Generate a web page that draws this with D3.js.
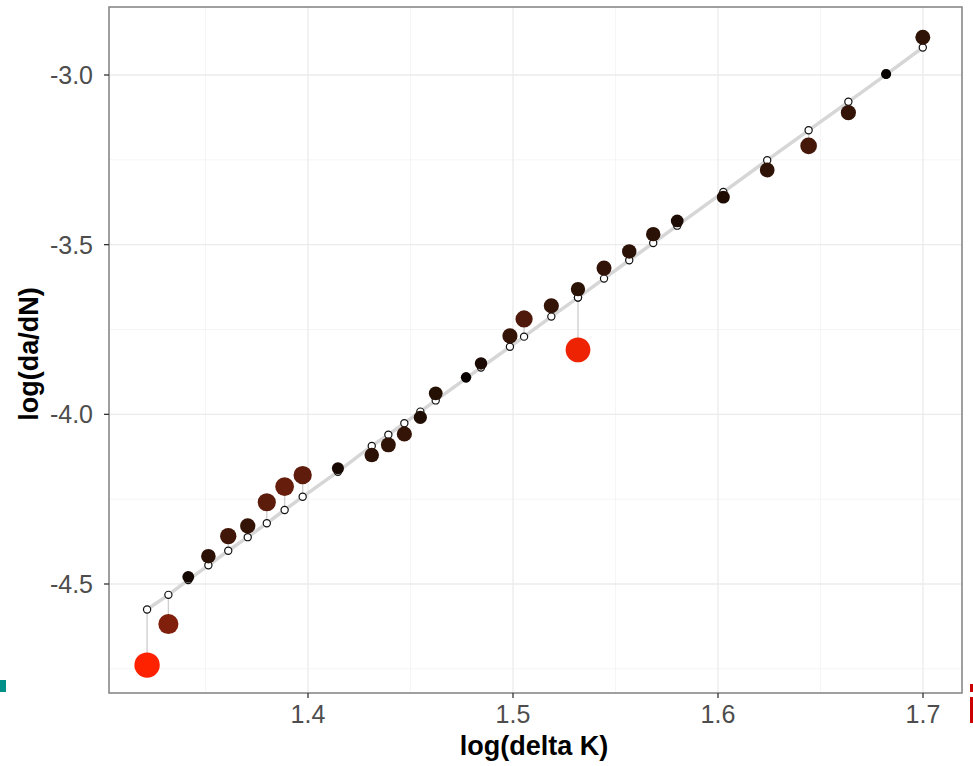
<!DOCTYPE html>
<html>
<head>
  <meta charset="utf-8">
  <style>
    body { margin: 0; background: #ffffff; }
    svg { display: block; font-family: 'Liberation Sans', Arial, sans-serif; }
    .grid-major { stroke: #ebebeb; stroke-width: 1.3; }
    .grid-minor { stroke: #f3f3f3; stroke-width: 0.8; }
    .tick-label { fill: #4d4d4d; font-size: 25px; }
    .axis-title { fill: #000000; font-size: 27px; font-weight: bold; }
  </style>
  <script src="https://d3js.org/d3.v7.min.js"></script>
</head>
<body>
  <div id="chart"></div>
  <script>
    // log(delta K) for each observation
    const logDeltaK = [1.3215, 1.3319, 1.3416, 1.3514, 1.3611, 1.3706, 1.3799, 1.3886, 1.3974,
      1.4146, 1.4311, 1.4392, 1.4470, 1.4548, 1.4623, 1.4771, 1.4844, 1.4985, 1.5054,
      1.5187, 1.5317, 1.5317, 1.5444, 1.5567, 1.5684, 1.5801, 1.6026, 1.6240, 1.6442,
      1.6636, 1.6820, 1.6999];
    // observed log(da/dN)
    const logDadN = [-4.739, -4.618, -4.479, -4.418, -4.359, -4.329, -4.259, -4.213, -4.179,
      -4.159, -4.120, -4.090, -4.058, -4.009, -3.938, -3.891, -3.850, -3.769, -3.719,
      -3.680, -3.631, -3.810, -3.569, -3.520, -3.469, -3.430, -3.360, -3.280, -3.209,
      -3.111, -2.997, -2.889];
    // fitted log(da/dN) from the regression line
    const fitted = [-4.575, -4.532, -4.488, -4.445, -4.402, -4.362, -4.321, -4.282, -4.243,
      -4.169, -4.093, -4.060, -4.026, -3.992, -3.959, -3.894, -3.862, -3.801, -3.771,
      -3.712, -3.656, -3.656, -3.600, -3.546, -3.495, -3.444, -3.345, -3.251, -3.163,
      -3.079, -2.999, -2.919];

    const xTicks = [1.4, 1.5, 1.6, 1.7];
    const xMinor = [1.35, 1.45, 1.55, 1.65];
    const yTicks = [-3.0, -3.5, -4.0, -4.5];
    const yMinor = [-3.25, -3.75, -4.25, -4.75];

    const data = logDeltaK.map((x, i) => ({
      x: x, y: logDadN[i], fit: fitted[i], res: Math.abs(logDadN[i] - fitted[i])
    }));

    const W = 973, H = 766;
    const panel = { left: 109, top: 7, right: 962, bottom: 693 };

    const x = d3.scaleLinear()
      .domain([1.4, 1.7]).range([308, 923]);
    const y = d3.scaleLinear()
      .domain([-3.0, -4.5]).range([75, 584]);

    const maxRes = d3.max(data, d => d.res);
    const size = d3.scalePow().exponent(0.6).domain([0, maxRes]).range([4.5, 12.7]);
    const color = d3.scaleLinear().domain([0, maxRes])
      .range(["#000000", "#ff2200"]).interpolate(d3.interpolateLab);

    const svg = d3.select("#chart").append("svg")
      .attr("width", W).attr("height", H);

    // grid
    const grid = svg.append("g");
    grid.selectAll(".gx-minor").data(xMinor).enter().append("line")
      .attr("class", "grid-minor")
      .attr("x1", d => x(d)).attr("x2", d => x(d))
      .attr("y1", panel.top).attr("y2", panel.bottom);
    grid.selectAll(".gy-minor").data(yMinor).enter().append("line")
      .attr("class", "grid-minor")
      .attr("x1", panel.left).attr("x2", panel.right)
      .attr("y1", d => y(d)).attr("y2", d => y(d));
    grid.selectAll(".gx").data(xTicks).enter().append("line")
      .attr("class", "grid-major")
      .attr("x1", d => x(d)).attr("x2", d => x(d))
      .attr("y1", panel.top).attr("y2", panel.bottom);
    grid.selectAll(".gy").data(yTicks).enter().append("line")
      .attr("class", "grid-major")
      .attr("x1", panel.left).attr("x2", panel.right)
      .attr("y1", d => y(d)).attr("y2", d => y(d));

    // regression line
    const line = d3.line().x(d => x(d.x)).y(d => y(d.fit));
    svg.append("path")
      .datum(data)
      .attr("d", line)
      .attr("fill", "none")
      .attr("stroke", "#d6d6d6")
      .attr("stroke-width", 3.5);

    // residual segments
    svg.selectAll(".res").data(data).enter().append("line")
      .attr("x1", d => x(d.x)).attr("x2", d => x(d.x))
      .attr("y1", d => y(d.fit)).attr("y2", d => y(d.y))
      .attr("stroke", "#d0d0d0")
      .attr("stroke-width", 1.4);

    // fitted points
    svg.selectAll(".fit").data(data).enter().append("circle")
      .attr("cx", d => x(d.x)).attr("cy", d => y(d.fit))
      .attr("r", 3.6)
      .attr("fill", "#ffffff")
      .attr("stroke", "#111111")
      .attr("stroke-width", 1.2);

    // observed points
    svg.selectAll(".obs").data(data).enter().append("circle")
      .attr("cx", d => x(d.x)).attr("cy", d => y(d.y))
      .attr("r", d => size(d.res))
      .attr("fill", d => color(d.res));

    // panel border
    svg.append("rect")
      .attr("x", panel.left).attr("y", panel.top)
      .attr("width", panel.right - panel.left)
      .attr("height", panel.bottom - panel.top)
      .attr("fill", "none")
      .attr("stroke", "#808080")
      .attr("stroke-width", 1.5);

    // ticks
    svg.selectAll(".xt").data(xTicks).enter().append("line")
      .attr("x1", d => x(d)).attr("x2", d => x(d))
      .attr("y1", panel.bottom).attr("y2", panel.bottom + 5)
      .attr("stroke", "#333333").attr("stroke-width", 1.3);
    svg.selectAll(".yt").data(yTicks).enter().append("line")
      .attr("x1", panel.left - 5).attr("x2", panel.left)
      .attr("y1", d => y(d)).attr("y2", d => y(d))
      .attr("stroke", "#333333").attr("stroke-width", 1.3);

    svg.selectAll(".xl").data(xTicks).enter().append("text")
      .attr("class", "tick-label")
      .attr("x", d => x(d)).attr("y", 723)
      .attr("text-anchor", "middle")
      .text(d => d3.format(".1f")(d));
    svg.selectAll(".yl").data(yTicks).enter().append("text")
      .attr("class", "tick-label")
      .attr("x", 93).attr("y", d => y(d) + 9)
      .attr("text-anchor", "end")
      .text(d => d3.format(".1f")(d).replace("−", "-"));

    svg.append("text")
      .attr("class", "axis-title")
      .attr("x", 534).attr("y", 755)
      .attr("text-anchor", "middle")
      .text("log(delta K)");
    svg.append("text")
      .attr("class", "axis-title")
      .attr("transform", `translate(38, ${(panel.top + panel.bottom) / 2 + 4}) rotate(-90)`)
      .attr("text-anchor", "middle")
      .text("log(da/dN)");

    // bits of neighbouring images cut into the screenshot
    svg.append("rect").attr("x", 0).attr("y", 680).attr("width", 6).attr("height", 12).attr("fill", "#00908a");
    svg.append("rect").attr("x", 970).attr("y", 684).attr("width", 3).attr("height", 8).attr("fill", "#cc0000");
    svg.append("rect").attr("x", 970).attr("y", 697).attr("width", 3).attr("height", 26).attr("fill", "#cc0000");
  </script>
</body>
</html>
